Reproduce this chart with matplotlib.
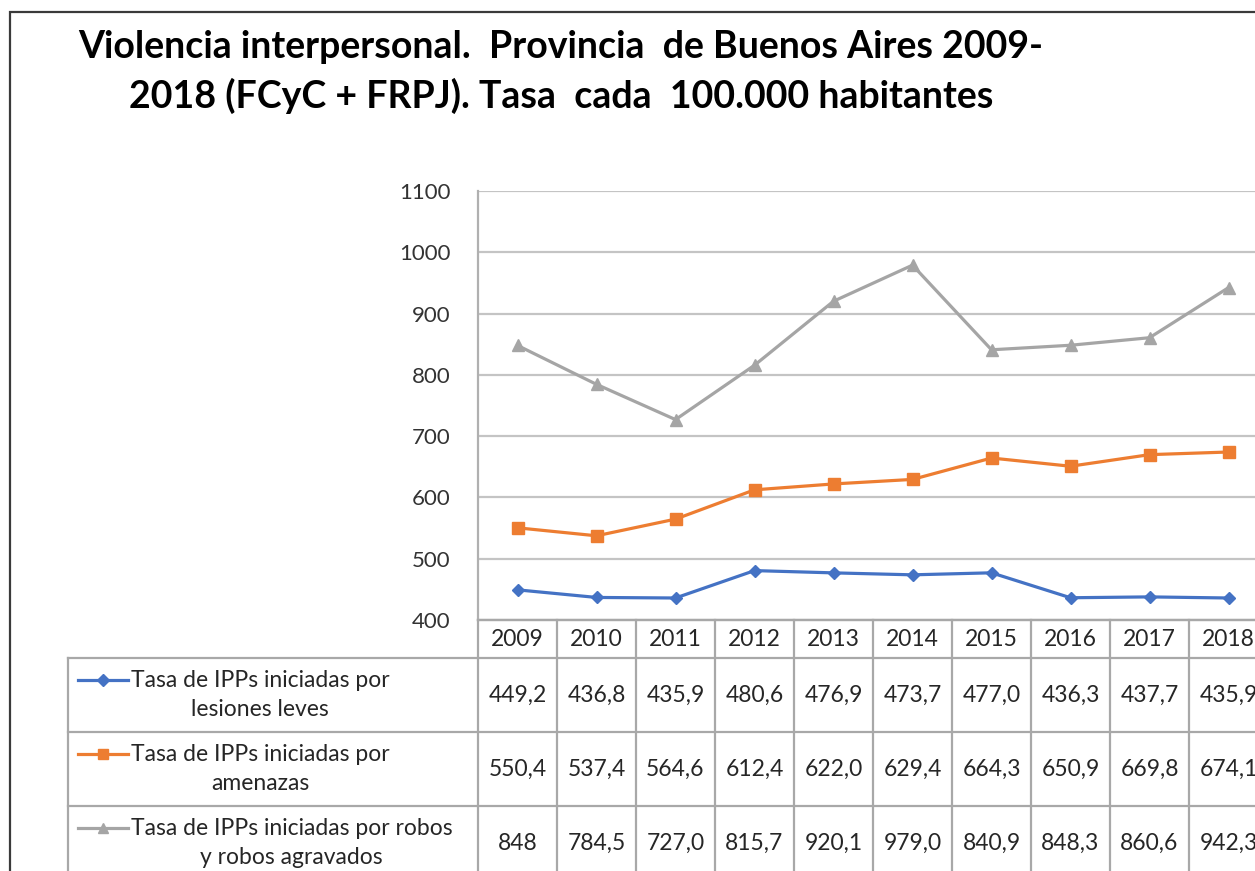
import matplotlib
matplotlib.use('Agg')
import matplotlib.pyplot as plt
from matplotlib.patches import Rectangle

plt.rcParams['font.family'] = ['Lato', 'DejaVu Sans']

# Data
years = ['2009', '2010', '2011', '2012', '2013', '2014', '2015', '2016', '2017', '2018']
lesiones = [449.2, 436.8, 435.9, 480.6, 476.9, 473.7, 477.0, 436.3, 437.7, 435.9]
amenazas = [550.4, 537.4, 564.6, 612.4, 622.0, 629.4, 664.3, 650.9, 669.8, 674.1]
robos = [848, 784.5, 727.0, 815.7, 920.1, 979.0, 840.9, 848.3, 860.6, 942.3]
series_names = ['Tasa de IPPs iniciadas por\nlesiones leves',
                'Tasa de IPPs iniciadas por\namenazas',
                'Tasa de IPPs iniciadas por robos\ny robos agravados']
title = ('Violencia interpersonal.  Provincia  de Buenos Aires 2009-\n'
         '2018 (FCyC + FRPJ). Tasa  cada  100.000 habitantes')
y_ticks = [400, 500, 600, 700, 800, 900, 1000, 1100]

series = [lesiones, amenazas, robos]
colors = ['#4472C4', '#ED7D31', '#A5A5A5']
markers = ['D', 's', '^']
msizes = [6.5, 8, 8]

W, H = 1255, 871
fig = plt.figure(figsize=(W / 100, H / 100), dpi=100)

# outer frame (cut off at right and bottom)
fig.add_artist(Rectangle((10 / W, -0.1), 1.2, (H - 12) / H + 0.1, transform=fig.transFigure,
                         fill=False, ec='#3a3a3a', lw=1.6))

fig.text(561 / W, 1 - 72 / H, title, ha='center', va='center', ma='center',
         fontsize=27, fontweight='bold', color='black', linespacing=1.45)

# plot area: x from 478 px to 1268 px, y from 191 px (1100) to 620 px (400)
col_w = 79
left_px, right_px = 478, 478 + 10 * col_w
top_px, bot_px = 191, 620
ax = fig.add_axes([left_px / W, (H - bot_px) / H, (right_px - left_px) / W, (bot_px - top_px) / H])
x = list(range(len(years)))
for vals, c, m, ms in zip(series, colors, markers, msizes):
    ax.plot(x, vals, color=c, lw=2.3, marker=m, ms=ms, mfc=c, mec=c, zorder=3)
ax.set_xlim(-0.5, 9.5)
ax.set_ylim(400, 1100)
ax.set_yticks(y_ticks)
ax.set_yticklabels([str(t) for t in y_ticks], fontsize=16, color='#333333')
ax.tick_params(axis='y', length=0, pad=20)
ax.set_xticks([])
ax.grid(axis='y', color='#c4c4c4', lw=1.6)
ax.set_axisbelow(True)
for s in ['top', 'right']:
    ax.spines[s].set_visible(False)
ax.spines['left'].set_color('#b0b0b0')
ax.spines['left'].set_linewidth(1.6)
ax.spines['bottom'].set_color('#b0b0b0')
ax.spines['bottom'].set_linewidth(1.6)

# data table under the chart
tab_left_px, tab_bot_px = 68, 880
rows_px = [620, 658, 732, 806, 880]
tax = fig.add_axes([tab_left_px / W, (H - tab_bot_px) / H, (right_px - tab_left_px) / W,
                    (tab_bot_px - bot_px) / H])
xl = -0.5 - (left_px - tab_left_px) / col_w
tax.set_xlim(xl, 9.5)
tax.set_ylim(tab_bot_px, bot_px)
tax.axis('off')

def px(p):
    return -0.5 + (p - left_px) / col_w

gc = '#a8a8a8'
fs = 16.5
tax.plot([-0.5, 9.5], [rows_px[0]] * 2, color=gc, lw=1.6, clip_on=False)
for r in rows_px[1:4]:
    tax.plot([xl, 9.5], [r, r], color=gc, lw=1.6, clip_on=False)
for i in range(11):
    tax.plot([i - 0.5] * 2, [rows_px[0], tab_bot_px], color=gc, lw=1.6, clip_on=False)
tax.plot([xl, xl], [rows_px[1], tab_bot_px], color=gc, lw=1.6, clip_on=False)

for i, yr in enumerate(years):
    tax.text(i, (rows_px[0] + rows_px[1]) / 2 + 1, yr, ha='center', va='center',
             fontsize=fs, color='#262626')

for k, (vals, name, c, m, ms) in enumerate(zip(series, series_names, colors, markers, msizes)):
    yc = (rows_px[k + 1] + rows_px[k + 2]) / 2
    tax.plot([px(78), px(128)], [yc - 15, yc - 15], color=c, lw=2.3, clip_on=False)
    tax.plot([px(103)], [yc - 15], marker=m, ms=ms * 0.9, color=c, clip_on=False)
    tax.text(px(131), yc, name, ha='left', va='center', ma='center', fontsize=fs,
             color='#262626', linespacing=1.45)
    for i, v in enumerate(vals):
        lab = str(v) if isinstance(v, int) else f'{v:.1f}'.replace('.', ',')
        tax.text(i, yc, lab, ha='center', va='center', fontsize=fs, color='#262626')

fig.savefig('out.png', dpi=100)
